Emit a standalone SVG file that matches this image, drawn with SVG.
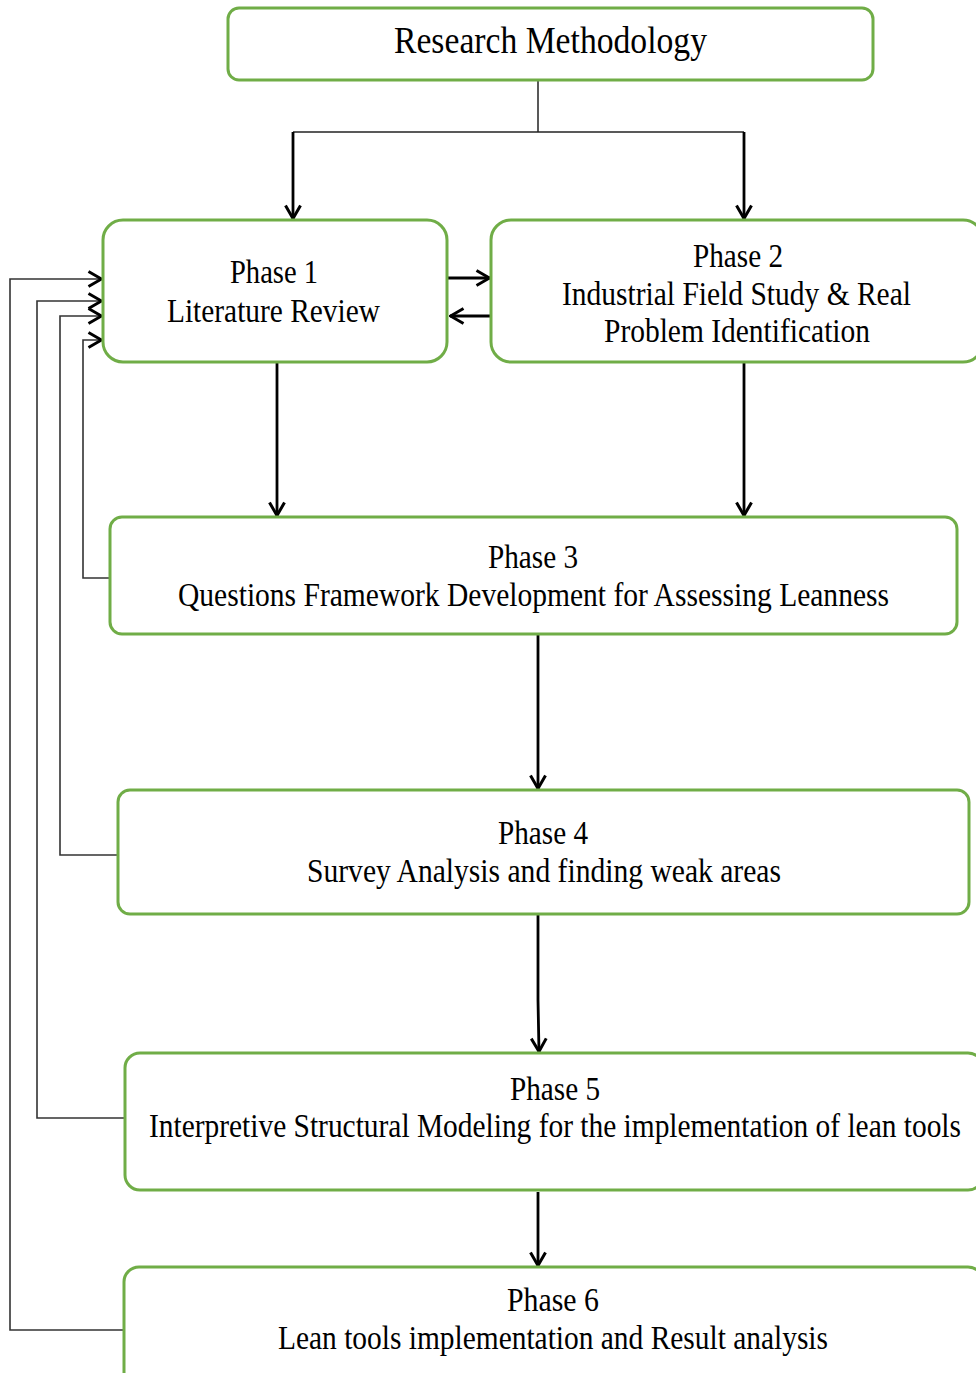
<svg xmlns="http://www.w3.org/2000/svg" width="976" height="1373" viewBox="0 0 976 1373">
<style>
.box{fill:#fff;stroke:#70AD47;stroke-width:3}
.t{font-family:"Liberation Serif","Times New Roman",serif;font-size:33px;fill:#000;text-anchor:middle}
.tt{font-family:"Liberation Serif","Times New Roman",serif;font-size:37px;fill:#000;text-anchor:middle}
.c{fill:none;stroke:#000;stroke-width:2.8}
.thin{fill:none;stroke:#222;stroke-width:1.5}
.fb{fill:none;stroke:#333;stroke-width:1.6}
</style>
<defs>
<marker id="arr" viewBox="0 0 16 18" refX="15" refY="9" markerWidth="16" markerHeight="18" markerUnits="userSpaceOnUse" orient="auto">
<path d="M1.5,1.5 L14.5,9 L1.5,16.5" fill="none" stroke="#000" stroke-width="3"/>
</marker>
</defs>
<rect width="976" height="1373" fill="#fff"/>
<g id="connectors">
<polyline class="thin" points="538,80 538,132"/>
<polyline class="thin" points="293,132 744,132"/>
<line class="c" x1="293" y1="132" x2="293" y2="219" marker-end="url(#arr)"/>
<line class="c" x1="744" y1="132" x2="744" y2="219" marker-end="url(#arr)"/>
<line class="c" x1="447" y1="278" x2="490" y2="278" marker-end="url(#arr)"/>
<line class="c" x1="491" y1="316" x2="450" y2="316" marker-end="url(#arr)"/>
<line class="c" x1="277" y1="362" x2="277" y2="516" marker-end="url(#arr)"/>
<line class="c" x1="744" y1="362" x2="744" y2="516" marker-end="url(#arr)"/>
<line class="c" x1="538" y1="634" x2="538" y2="789" marker-end="url(#arr)"/>
<polyline class="c" points="538,914 538,1000 539,1052" marker-end="url(#arr)"/>
<line class="c" x1="538" y1="1192" x2="538" y2="1266" marker-end="url(#arr)"/>
<polyline class="fb" points="110,578 83,578 83,340 102,340" marker-end="url(#arr)"/>
<polyline class="fb" points="118,855 60,855 60,316 102,316" marker-end="url(#arr)"/>
<polyline class="fb" points="125,1118 37,1118 37,301 102,301" marker-end="url(#arr)"/>
<polyline class="fb" points="124,1330 10,1330 10,279 102,279" marker-end="url(#arr)"/>
</g>
<g id="research-methodology">
<rect class="box" x="228" y="8" width="645" height="72" rx="11" ry="11"/>
<text class="tt" x="550.5" y="53" textLength="313" lengthAdjust="spacingAndGlyphs">Research Methodology</text>
</g>
<g id="phase1">
<rect class="box" x="103" y="220" width="344" height="142" rx="20" ry="20"/>
<text class="t" x="274" y="283" textLength="88" lengthAdjust="spacingAndGlyphs">Phase 1</text>
<text class="t" x="273.5" y="322" textLength="213" lengthAdjust="spacingAndGlyphs">Literature Review</text>
</g>
<g id="phase2">
<rect class="box" x="491" y="220" width="492" height="142" rx="20" ry="20"/>
<text class="t" x="738" y="267" textLength="90" lengthAdjust="spacingAndGlyphs">Phase 2</text>
<text class="t" x="736.5" y="305" textLength="349" lengthAdjust="spacingAndGlyphs">Industrial Field Study &amp; Real</text>
<text class="t" x="737" y="342" textLength="266" lengthAdjust="spacingAndGlyphs">Problem Identification</text>
</g>
<g id="phase3">
<rect class="box" x="110" y="517" width="847" height="117" rx="12" ry="12"/>
<text class="t" x="533" y="568" textLength="90" lengthAdjust="spacingAndGlyphs">Phase 3</text>
<text class="t" x="533.5" y="606" textLength="711" lengthAdjust="spacingAndGlyphs">Questions Framework Development for Assessing Leanness</text>
</g>
<g id="phase4">
<rect class="box" x="118" y="790" width="851" height="124" rx="12" ry="12"/>
<text class="t" x="543" y="844" textLength="90" lengthAdjust="spacingAndGlyphs">Phase 4</text>
<text class="t" x="544" y="882" textLength="474" lengthAdjust="spacingAndGlyphs">Survey Analysis and finding weak areas</text>
</g>
<g id="phase5">
<rect class="box" x="125" y="1053" width="858" height="137" rx="15" ry="15"/>
<text class="t" x="555" y="1100" textLength="90" lengthAdjust="spacingAndGlyphs">Phase 5</text>
<text class="t" x="555" y="1137" textLength="812" lengthAdjust="spacingAndGlyphs">Interpretive Structural Modeling for the implementation of lean tools</text>
</g>
<g id="phase6">
<rect class="box" x="124" y="1267" width="859" height="120" rx="15" ry="15"/>
<text class="t" x="553" y="1311" textLength="92" lengthAdjust="spacingAndGlyphs">Phase 6</text>
<text class="t" x="553" y="1349" textLength="550" lengthAdjust="spacingAndGlyphs">Lean tools implementation and Result analysis</text>
</g>
</svg>
